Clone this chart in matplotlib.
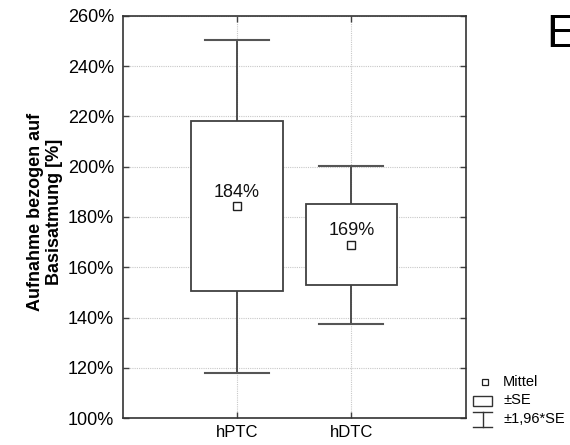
import matplotlib
matplotlib.use("Agg")
import matplotlib.pyplot as plt
from matplotlib.patches import Rectangle
import numpy as np

plt.rcParams['font.family'] = ['Liberation Sans', 'DejaVu Sans']

categories = ["hPTC", "hDTC"]
means = [184.3, 169.0]
se = [33.75, 16.0]
mean_labels = ["184%", "169%"]
yticks = [100, 120, 140, 160, 180, 200, 220, 240, 260]
ytick_labels = ["100%", "120%", "140%", "160%", "180%", "200%", "220%", "240%", "260%"]

fig = plt.figure(figsize=(5.70, 4.45), dpi=100)
ax = fig.add_axes([122.5/570, 1-418.3/445, (465.7-122.5)/570, (418.3-15.7)/445])

pos = np.arange(1, len(categories)+1)
line_col = "#404040"
box_w = 0.8
cap_w = 0.56
for x, m, s, lab in zip(pos, means, se, mean_labels):
    lo, hi = m - s, m + s
    wlo, whi = m - 1.96*s, m + 1.96*s
    ax.add_patch(Rectangle((x - box_w/2, lo), box_w, hi - lo, facecolor="white",
                           edgecolor=line_col, lw=1.3, zorder=3))
    ax.plot([x, x], [hi, whi], color=line_col, lw=1.3, zorder=2)
    ax.plot([x, x], [wlo, lo], color=line_col, lw=1.3, zorder=2)
    ax.plot([x - cap_w/2, x + cap_w/2], [whi, whi], color="#555555", lw=1.5, zorder=2)
    ax.plot([x - cap_w/2, x + cap_w/2], [wlo, wlo], color="#555555", lw=1.5, zorder=2)
    ax.plot([x], [m], marker="s", ms=6, mfc="white", mec="#202020", mew=1.0, zorder=5)
    ax.text(x, m + 5.5, lab, ha="center", va="center", fontsize=13, color="#111111", zorder=6)

ax.set_xlim(0, 3)
ax.set_ylim(100, 260)
ax.set_xticks(pos)
ax.set_xticklabels(categories, fontsize=12)
ax.set_yticks(yticks)
ax.set_yticklabels(ytick_labels, fontsize=13)
ax.tick_params(direction="in", top=True, right=True, length=4, width=1, color="#404040")
ax.tick_params(axis="y", pad=6)
ax.tick_params(axis="x", pad=5)
ax.grid(True, linestyle=(0, (1, 1)), color="#c8c8c8", lw=0.8, zorder=0)
ax.set_axisbelow(True)
for sp in ax.spines.values():
    sp.set_color("#333333")
    sp.set_linewidth(1.2)

fig.text(45/570, 1-212/445, "Aufnahme bezogen auf\nBasisatmung [%]", rotation=90,
         ha="center", va="center", fontsize=13, fontweight="bold", linespacing=1.15)

fig.text(546/570, 1-35/445, "E", ha="left", va="center", fontsize=33, color="black")

# legend
def px(x, y):
    return (x/570, 1-y/445)

fig.lines.append(plt.Line2D([485/570], [1-382/445], marker="s", ms=5, mfc="white",
                            mec="#202020", mew=0.9, transform=fig.transFigure))
fig.text(*px(503, 382), "Mittel", ha="left", va="center", fontsize=10.5)
x0, y0 = px(473, 406)
x1, y1 = px(492, 396)
fig.patches.append(Rectangle((x0, y0), x1-x0, y1-y0, facecolor="white", edgecolor="#333333",
                             lw=1.0, transform=fig.transFigure))
fig.text(*px(503, 400), "±SE", ha="left", va="center", fontsize=10.5)
for (xa, ya, xb, yb) in [(473, 411.5, 492, 411.5), (482.5, 411.5, 482.5, 427), (473, 427, 492, 427)]:
    fig.lines.append(plt.Line2D([xa/570, xb/570], [1-ya/445, 1-yb/445], color="#333333",
                                lw=1.0, transform=fig.transFigure))
fig.text(*px(503, 419), "±1,96*SE", ha="left", va="center", fontsize=10.5)

fig.savefig("out.png", dpi=100)
